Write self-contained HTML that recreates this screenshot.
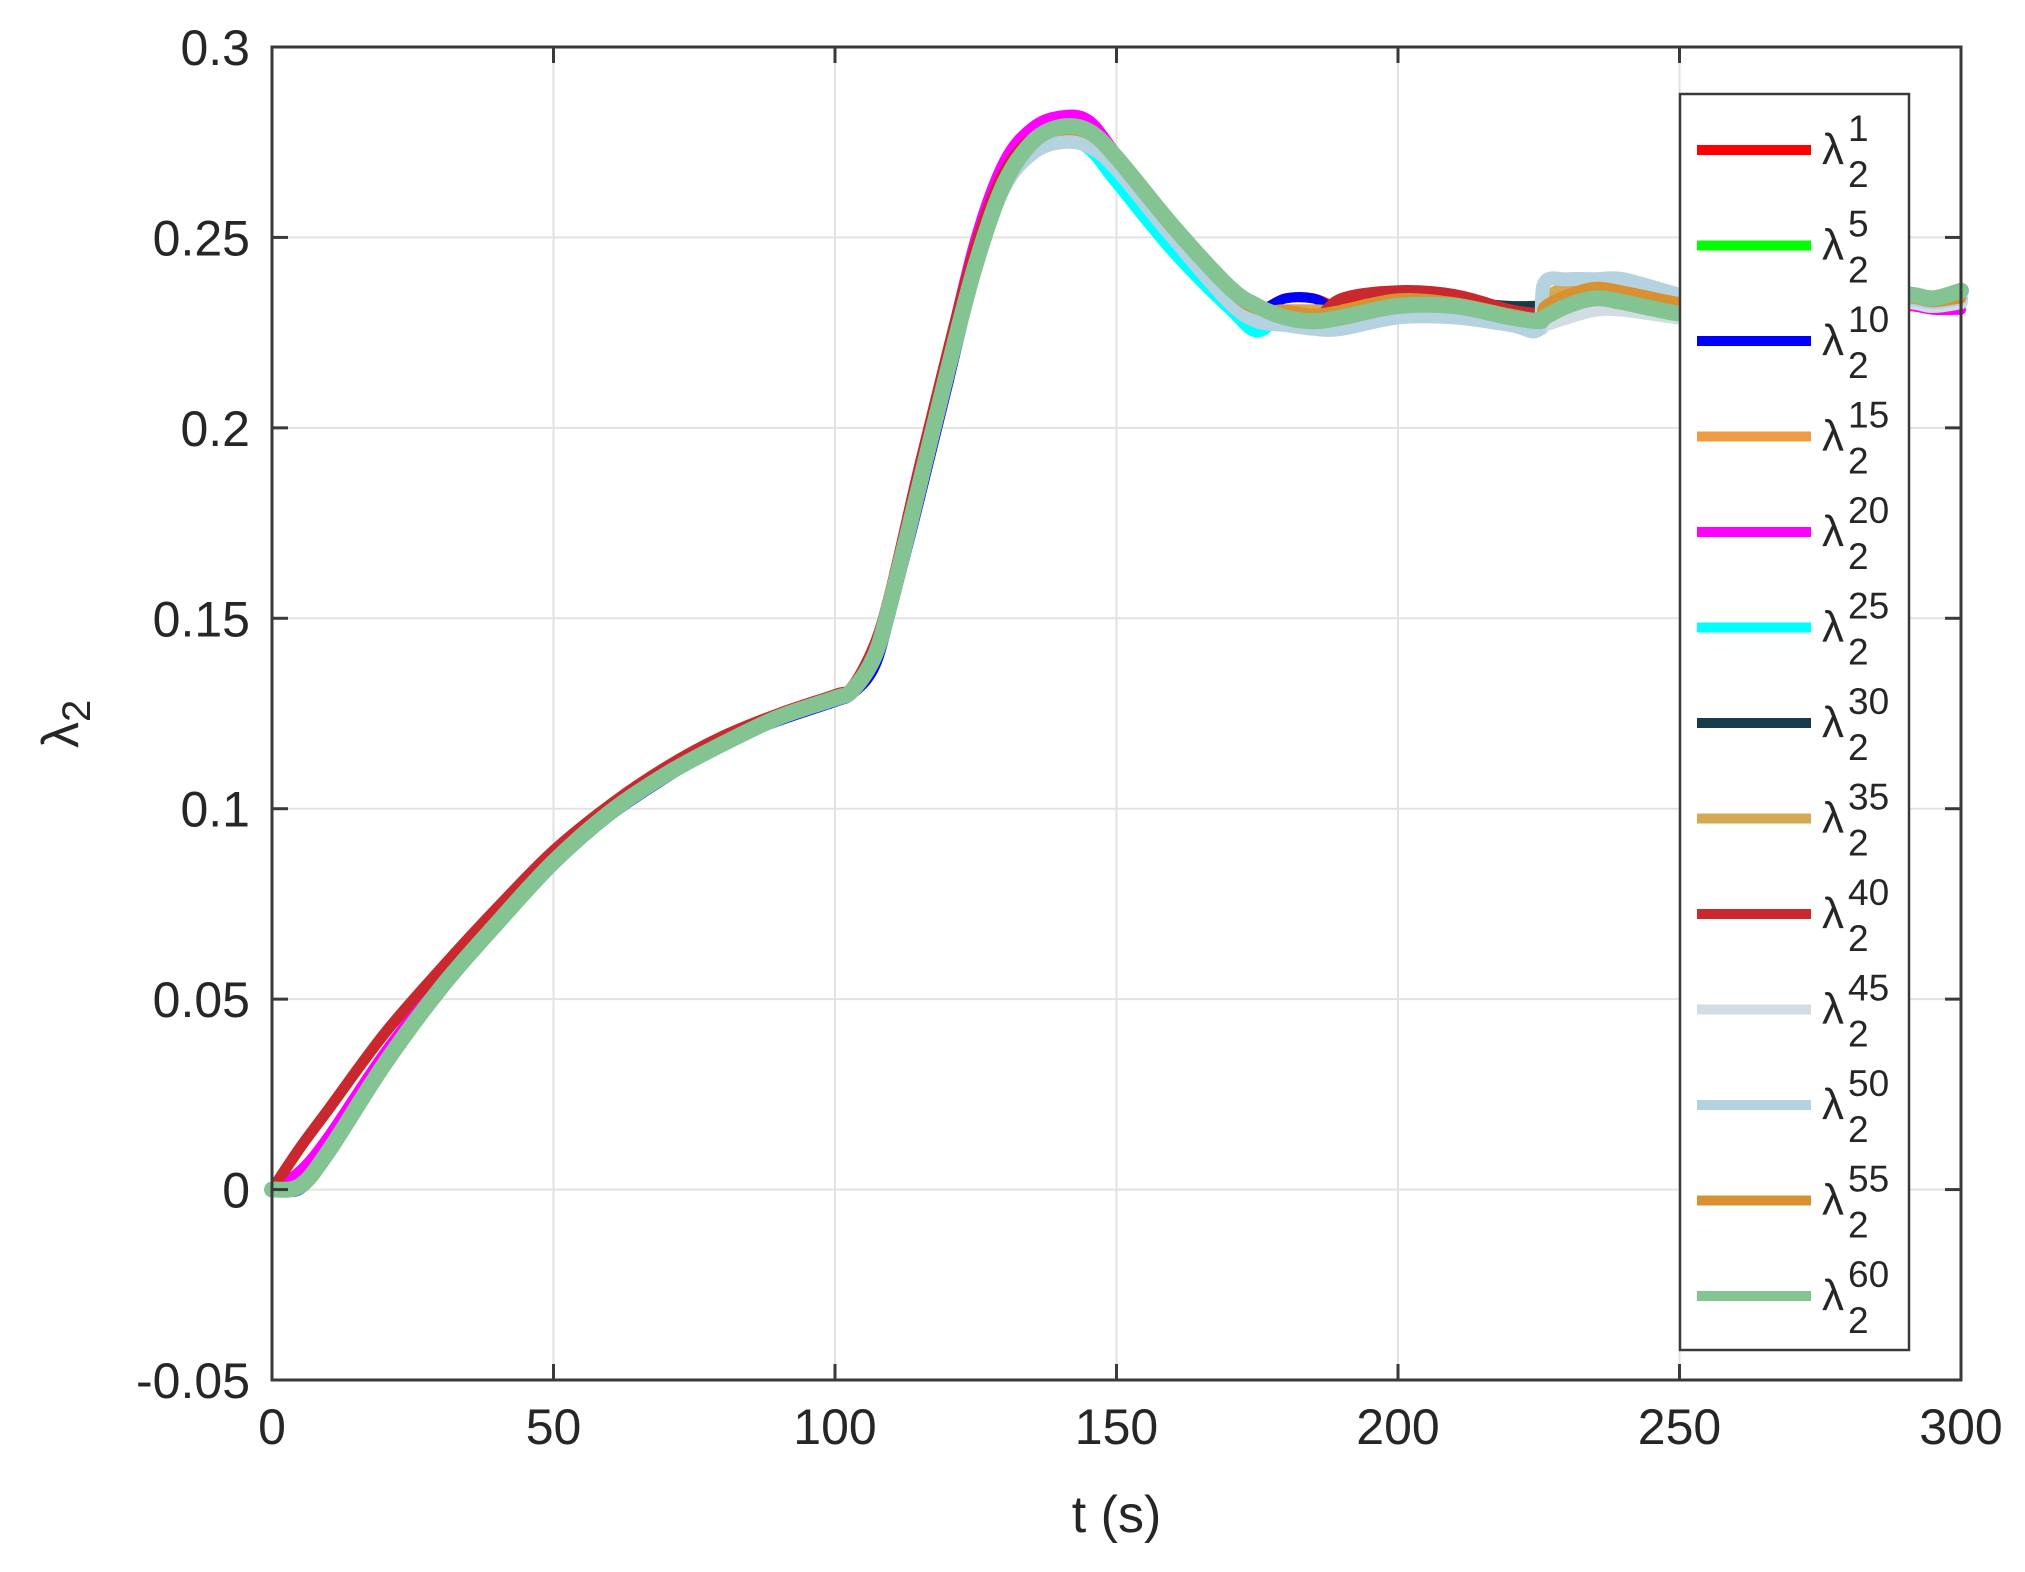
<!DOCTYPE html>
<html><head><meta charset="utf-8">
<style>
html,body{margin:0;padding:0;background:#fff;}
svg{display:block;font-family:"Liberation Sans",sans-serif;}
</style></head>
<body>
<svg id="chart" width="2025" height="1572" viewBox="0 0 2025 1572" xmlns="http://www.w3.org/2000/svg">
  <rect x="0" y="0" width="2025" height="1572" fill="#fff"/>
  <g id="grid"></g>
  <g id="series"></g>
  <g id="axes"></g>
  <g id="legend"></g>
</svg>
<script>
const xTicks = [0, 50, 100, 150, 200, 250, 300];
const yTicks = [-0.05, 0, 0.05, 0.1, 0.15, 0.2, 0.25, 0.3];
const yTickLabels = ["-0.05", "0", "0.05", "0.1", "0.15", "0.2", "0.25", "0.3"];
const times = [0,5,10,20,30,40,50,60,70,80,90,100,103,107,110,115,120,125,130,135,140,145,150,160,170,175,180,185,190,200,210,220,225,226,230,235,240,250,260,270,280,290,295,300];
const seriesNames = ["1","5","10","15","20","25","30","35","40","45","50","55","60"];
const seriesColors = ["#ff0000","#00ff00","#0000ff","#ee9b44","#ff00ff","#00ffff","#173b4a","#d4a952","#c8282e","#d2dde3","#b4d2e0","#d89030","#84c493"];
const seriesWidths = [10,10,10,10,10,10,10,11,11,14,14,10,16];
const v1  = [0,0.002,0.012,0.035,0.055,0.072,0.087,0.100,0.110,0.118,0.124,0.129,0.131,0.141,0.157,0.188,0.218,0.246,0.266,0.276,0.278,0.277,0.269,0.251,0.235,0.231,0.234,0.234,0.232,0.235,0.234,0.231,0.230,0.231,0.233,0.235,0.234,0.232,0.231,0.231,0.232,0.233,0.232,0.232];
const v5  = [0,0.001,0.010,0.033,0.053,0.070,0.086,0.099,0.109,0.117,0.124,0.129,0.131,0.140,0.155,0.185,0.215,0.243,0.264,0.275,0.278,0.277,0.270,0.252,0.235,0.230,0.230,0.230,0.230,0.233,0.233,0.230,0.229,0.230,0.233,0.234,0.234,0.231,0.230,0.231,0.232,0.234,0.233,0.234];
const v10 = [0,0.000,0.009,0.032,0.052,0.069,0.085,0.098,0.108,0.117,0.123,0.128,0.130,0.137,0.152,0.181,0.211,0.241,0.263,0.274,0.278,0.277,0.270,0.252,0.236,0.231,0.234,0.234,0.231,0.234,0.233,0.230,0.229,0.230,0.232,0.234,0.234,0.231,0.230,0.231,0.232,0.234,0.233,0.234];
const v15 = [0,0.001,0.010,0.033,0.053,0.070,0.086,0.099,0.109,0.117,0.124,0.129,0.131,0.139,0.154,0.184,0.214,0.243,0.264,0.275,0.278,0.277,0.270,0.252,0.236,0.231,0.231,0.231,0.231,0.234,0.233,0.230,0.229,0.231,0.234,0.236,0.236,0.233,0.232,0.232,0.233,0.234,0.233,0.234];
const v20 = [0,0.005,0.014,0.036,0.055,0.072,0.087,0.100,0.110,0.118,0.124,0.129,0.131,0.142,0.158,0.190,0.220,0.250,0.270,0.279,0.282,0.281,0.272,0.252,0.235,0.230,0.229,0.228,0.229,0.232,0.232,0.229,0.228,0.229,0.231,0.233,0.233,0.230,0.229,0.230,0.231,0.232,0.231,0.231];
const v25 = [0,0.001,0.010,0.033,0.053,0.070,0.086,0.099,0.109,0.117,0.124,0.129,0.131,0.140,0.155,0.186,0.216,0.244,0.264,0.274,0.276,0.273,0.264,0.246,0.231,0.225,0.230,0.229,0.229,0.232,0.232,0.229,0.228,0.230,0.234,0.236,0.236,0.233,0.231,0.231,0.232,0.234,0.233,0.234];
const v30 = [0,0.001,0.010,0.033,0.053,0.070,0.086,0.099,0.109,0.117,0.124,0.129,0.131,0.142,0.158,0.189,0.219,0.246,0.265,0.275,0.278,0.277,0.270,0.252,0.236,0.231,0.230,0.230,0.230,0.233,0.233,0.232,0.232,0.231,0.233,0.234,0.234,0.232,0.231,0.231,0.232,0.234,0.233,0.234];
const v35 = [0,0.001,0.010,0.033,0.053,0.070,0.086,0.099,0.109,0.117,0.124,0.129,0.131,0.140,0.155,0.185,0.215,0.243,0.264,0.275,0.278,0.277,0.270,0.252,0.236,0.231,0.231,0.231,0.231,0.234,0.233,0.230,0.229,0.234,0.237,0.238,0.237,0.234,0.232,0.232,0.233,0.234,0.233,0.234];
const v40 = [0,0.011,0.021,0.041,0.058,0.074,0.089,0.101,0.111,0.119,0.125,0.130,0.132,0.143,0.158,0.190,0.220,0.248,0.267,0.276,0.278,0.277,0.269,0.251,0.236,0.231,0.229,0.228,0.234,0.236,0.235,0.231,0.230,0.230,0.232,0.234,0.234,0.232,0.231,0.231,0.232,0.233,0.232,0.233];
const v45 = [0,0.001,0.010,0.033,0.053,0.070,0.086,0.099,0.109,0.117,0.124,0.129,0.131,0.140,0.155,0.185,0.215,0.243,0.263,0.272,0.275,0.274,0.268,0.250,0.234,0.229,0.228,0.227,0.227,0.230,0.230,0.227,0.226,0.227,0.229,0.231,0.231,0.229,0.228,0.229,0.231,0.233,0.232,0.233];
const v50 = [0,0.001,0.010,0.033,0.053,0.070,0.086,0.099,0.109,0.117,0.124,0.129,0.131,0.140,0.155,0.185,0.215,0.243,0.263,0.272,0.275,0.274,0.268,0.250,0.233,0.228,0.227,0.226,0.226,0.229,0.229,0.227,0.226,0.238,0.239,0.239,0.239,0.235,0.232,0.232,0.233,0.234,0.233,0.234];
const v55 = [0,0.001,0.010,0.033,0.053,0.070,0.086,0.099,0.109,0.117,0.124,0.129,0.131,0.140,0.155,0.185,0.215,0.243,0.264,0.275,0.278,0.277,0.270,0.252,0.236,0.231,0.231,0.230,0.231,0.234,0.233,0.230,0.229,0.232,0.235,0.237,0.236,0.233,0.231,0.231,0.232,0.234,0.233,0.234];
const v60 = [0,0.001,0.010,0.033,0.053,0.070,0.086,0.099,0.109,0.117,0.124,0.129,0.131,0.140,0.155,0.185,0.215,0.243,0.264,0.275,0.279,0.278,0.271,0.253,0.237,0.232,0.229,0.228,0.229,0.232,0.232,0.229,0.228,0.229,0.232,0.234,0.233,0.230,0.229,0.231,0.233,0.235,0.234,0.236];
const seriesValues = [v1,v5,v10,v15,v20,v25,v30,v35,v40,v45,v50,v55,v60];

const NS = "http://www.w3.org/2000/svg";
const L = 272, R = 1961, T = 47, B = 1380;
const xMin = 0, xMax = 300, yMin = -0.05, yMax = 0.3;
function xs(v){ return L + (v - xMin) / (xMax - xMin) * (R - L); }
function ys(v){ return B - (v - yMin) / (yMax - yMin) * (B - T); }
function mk(tag, attrs, parent){ const e = document.createElementNS(NS, tag); for (const k in attrs) e.setAttribute(k, attrs[k]); parent.appendChild(e); return e; }
function smoothPath(p){
  let d = 'M' + p[0][0].toFixed(1) + ',' + p[0][1].toFixed(1);
  for (let i = 0; i < p.length - 1; i++) {
    const p0 = p[Math.max(0, i-1)], p1 = p[i], p2 = p[i+1], p3 = p[Math.min(p.length-1, i+2)];
    const c1x = p1[0] + (p2[0]-p0[0])/6, c1y = p1[1] + (p2[1]-p0[1])/6;
    const c2x = p2[0] - (p3[0]-p1[0])/6, c2y = p2[1] - (p3[1]-p1[1])/6;
    d += ' C' + c1x.toFixed(1) + ',' + c1y.toFixed(1) + ' ' + c2x.toFixed(1) + ',' + c2y.toFixed(1) + ' ' + p2[0].toFixed(1) + ',' + p2[1].toFixed(1);
  }
  return d;
}

const grid = document.getElementById('grid');
const axes = document.getElementById('axes');
const sg = document.getElementById('series');
const lg = document.getElementById('legend');

xTicks.forEach((t, i) => {
  const x = xs(t);
  if (i > 0 && i < xTicks.length - 1) {
    const g = mk('line', {x1:x, x2:x, y1:T, y2:B, stroke:'#e2e2e2', 'stroke-width':2}, grid);
    
    
  }
  const tk = mk('line', {x1:x, x2:x, y1:B, y2:B-16, stroke:'#3a3a3a', 'stroke-width':3}, axes);
  
  
  const tk2 = mk('line', {x1:x, x2:x, y1:T, y2:T+16, stroke:'#3a3a3a', 'stroke-width':3}, axes);
  
  
  const lb = mk('text', {x:x, y:B+64, 'text-anchor':'middle', 'font-size':50, fill:'#262626'}, axes);
  lb.textContent = String(t);
  
  
});
yTicks.forEach((t, i) => {
  const y = ys(t);
  if (i > 0 && i < yTicks.length - 1) {
    const g = mk('line', {x1:L, x2:R, y1:y, y2:y, stroke:'#e2e2e2', 'stroke-width':2}, grid);
    
    
  }
  const tk = mk('line', {x1:L, x2:L+16, y1:y, y2:y, stroke:'#3a3a3a', 'stroke-width':3}, axes);
  
  
  const tk2 = mk('line', {x1:R, x2:R-16, y1:y, y2:y, stroke:'#3a3a3a', 'stroke-width':3}, axes);
  
  
  const lb = mk('text', {x:L-22, y:y+18, 'text-anchor':'end', 'font-size':50, fill:'#262626'}, axes);
  lb.textContent = yTickLabels[i];
  
  
});
const frame = mk('rect', {x:L, y:T, width:R-L, height:B-T, fill:'none', stroke:'#3a3a3a', 'stroke-width':3}, axes);



const xt = mk('text', {x:(L+R)/2, y:1532, 'text-anchor':'middle', 'font-size':52, fill:'#262626'}, axes);
xt.textContent = 't (s)';


const yt = mk('text', {x:0, y:0, 'font-size':52, fill:'#262626', transform:'translate(78,748) rotate(-90)'}, axes);
yt.innerHTML = 'λ<tspan font-size="40" dy="12">2</tspan>';



seriesValues.forEach((vals, s) => {
  const pts = vals.map((v, i) => [xs(times[i]), ys(v)]);
  const pl = mk('path', {d:smoothPath(pts), fill:'none', stroke:seriesColors[s], 'stroke-width':seriesWidths[s], 'stroke-linejoin':'round', 'stroke-linecap':'round'}, sg);
  
  
});

const box = mk('rect', {x:1680, y:94, width:229, height:1256, fill:'#fff', stroke:'#3a3a3a', 'stroke-width':2.5}, lg);


seriesNames.forEach((n, s) => {
  const y = 150 + s * 95.5;
  const ln = mk('line', {x1:1697, x2:1811, y1:y, y2:y, stroke:seriesColors[s], 'stroke-width':10}, lg);
  
  
  const tx = mk('text', {x:1822, y:y+14, 'font-size':44, fill:'#262626'}, lg);
  tx.textContent = 'λ';
  
  
  const sup = mk('text', {x:1848, y:y-9, 'font-size':37, fill:'#262626'}, lg);
  sup.textContent = n;
  
  
  const sub = mk('text', {x:1848, y:y+37, 'font-size':37, fill:'#262626'}, lg);
  sub.textContent = '2';
  
  
});
</script>
</body></html>
